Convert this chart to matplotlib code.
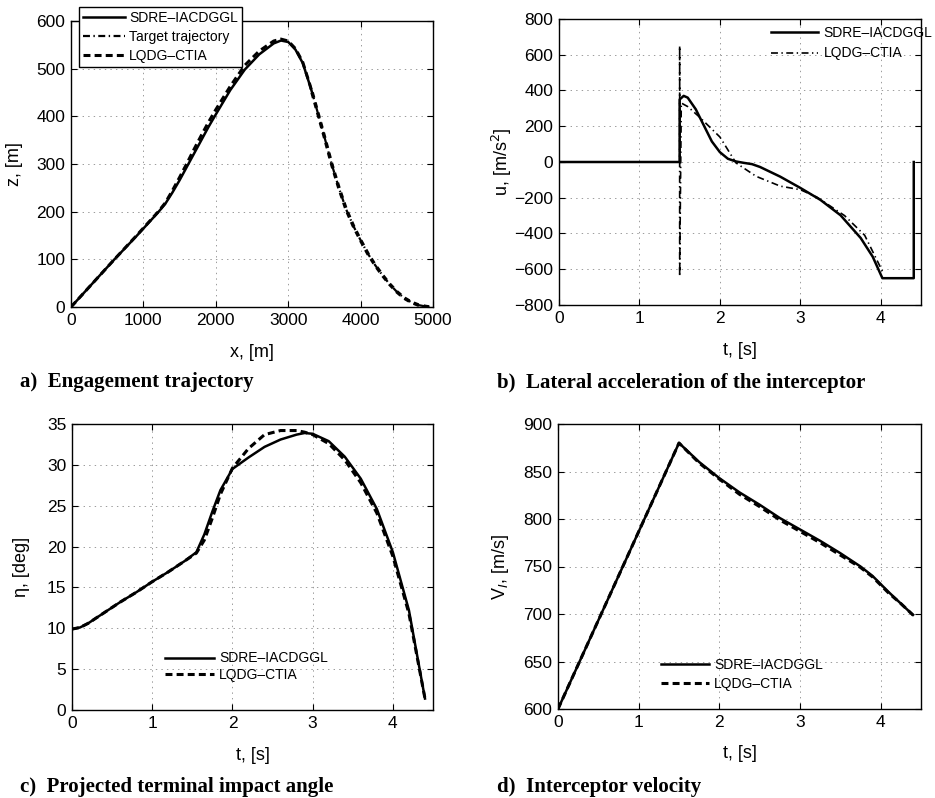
import numpy as np
import matplotlib
matplotlib.use("Agg")
import matplotlib.pyplot as plt

plt.rcParams['font.family'] = ['Liberation Sans', 'DejaVu Sans']
plt.rcParams['lines.scale_dashes'] = False

# a) engagement trajectory
sdre_x = [0, 300, 600, 900, 1200, 1300, 1400, 1500, 1600, 1700, 1800, 1900, 2000, 2200, 2400, 2600, 2800, 2900, 3000, 3100, 3200, 3300, 3330]
sdre_z = [0, 50, 100, 148, 198, 216, 240, 266, 294, 322, 350, 378, 404, 455, 498, 530, 553, 559, 556, 540, 512, 465, 450]
lqdg_x = [0, 300, 600, 900, 1200, 1300, 1400, 1500, 1600, 1700, 1800, 1900, 2000, 2200, 2400, 2600, 2800, 2900, 3000, 3100, 3200, 3300, 3330]
lqdg_z = [0, 50, 100, 149, 199, 218, 244, 272, 301, 331, 360, 388, 414, 463, 507, 537, 558, 562, 558, 542, 514, 466, 450]
tgt_x = [3330, 3400, 3500, 3600, 3700, 3800, 3900, 4000, 4100, 4200, 4300, 4400, 4500, 4600, 4700, 4800, 4900, 4950]
tgt_z = [450, 412, 357, 300, 250, 205, 170, 140, 112, 88, 67, 48, 32, 19, 10, 4, 1, 0]

# b) lateral acceleration
sdre_tb = [0, 1.5, 1.5, 1.55, 1.6, 1.7, 1.8, 1.9, 2.0, 2.1, 2.2, 2.3, 2.4, 2.5, 2.75, 3.0, 3.25, 3.5, 3.75, 3.9, 4.02, 4.41, 4.41]
sdre_u = [0, 0, 350, 370, 360, 295, 205, 115, 55, 18, 3, -5, -12, -28, -82, -145, -212, -298, -425, -530, -650, -650, 0]
lqdg_tb = [0, 1.5, 1.5, 1.5, 1.52, 1.6, 1.75, 2.0, 2.2, 2.45, 2.75, 3.0, 3.2, 3.55, 3.8, 4.03]
lqdg_u = [0, 0, 650, -640, 330, 310, 250, 140, -5, -80, -135, -155, -195, -300, -410, -620]

# c) projected terminal impact angle
t_c = [0, 0.1, 0.2, 0.4, 0.6, 0.8, 1.0, 1.2, 1.4, 1.55, 1.65, 1.75, 1.85, 2.0, 2.2, 2.4, 2.6, 2.8, 2.9, 3.0, 3.2, 3.4, 3.6, 3.8, 4.0, 4.2, 4.4]
sdre_eta = [9.9, 10.1, 10.6, 11.9, 13.2, 14.4, 15.7, 16.9, 18.2, 19.3, 21.5, 24.3, 26.9, 29.5, 30.9, 32.2, 33.1, 33.7, 33.9, 33.8, 32.9, 31.0, 28.3, 24.6, 19.3, 12.2, 1.4]
lqdg_eta = [9.9, 10.1, 10.6, 11.9, 13.2, 14.4, 15.7, 16.9, 18.2, 19.2, 20.8, 23.5, 26.4, 29.6, 32.0, 33.7, 34.2, 34.2, 34.0, 33.7, 32.6, 30.6, 27.8, 24.1, 18.8, 11.8, 1.4]

# d) interceptor velocity
t_d = [0, 1.5, 1.75, 2.0, 2.25, 2.5, 2.75, 3.0, 3.25, 3.5, 3.75, 3.9, 4.1, 4.25, 4.4]
sdre_v = [600, 880, 860, 843, 828, 815, 801, 789, 777, 764, 750, 740, 723, 711, 699]
lqdg_v = [600, 880, 859, 842, 826, 813, 799, 787, 775, 762, 749, 739, 722, 711, 699]

lab = ['SDRE\u2013IACDGGL', 'LQDG\u2013CTIA']
solid = dict(color='black', lw=1.8)
dashed = dict(color='black', lw=2.2, dashes=(5, 3))
dashdot = dict(color='black', lw=1.2, dashes=(5, 2.5, 1, 2.5))

W, H = 935, 798
fig = plt.figure(figsize=(W / 100, H / 100), dpi=100)
TICK = 12.5
LAB = 13
LEG = 10


def make_ax(l, t, r, b):
    ax = fig.add_axes([l / W, 1 - b / H, (r - l) / W, (b - t) / H])
    ax.tick_params(direction='in', top=True, right=True, length=4, labelsize=TICK, pad=4)
    ax.grid(True, color='#9a9a9a', lw=0.7, dashes=(1, 3))
    for s in ax.spines.values():
        s.set_linewidth(1.0)
    return ax


# panel a
ax = make_ax(71, 21, 433, 307)
ax.plot(sdre_x, sdre_z, label=lab[0], **solid)
ax.plot(tgt_x, tgt_z, label='Target trajectory', color='black', lw=1.6, dashes=(5, 2.5, 1, 2.5))
ax.plot(lqdg_x, lqdg_z, label=lab[1], **dashed)
ax.plot(tgt_x, tgt_z, color='black', lw=2.6, dashes=(4, 3.5))
ax.set_xlim(0, 5000)
ax.set_ylim(0, 600)
ax.set_xticks(np.arange(0, 5001, 1000))
ax.set_yticks(np.arange(0, 601, 100))
ax.set_xlabel('x, [m]', fontsize=LAB, labelpad=12)
ax.set_ylabel('z, [m]', fontsize=LAB, labelpad=10)
leg = ax.legend(loc='upper left', bbox_to_anchor=(0.022, 1.049), borderaxespad=0,
                fontsize=LEG, frameon=True, fancybox=False, framealpha=1,
                edgecolor='black', handlelength=3.0, handletextpad=0.3,
                labelspacing=0.35, borderpad=0.3)
leg.get_frame().set_linewidth(1.0)

# panel b
ax = make_ax(559, 19, 921, 305)
ax.plot(sdre_tb, sdre_u, label=lab[0], **solid)
ax.plot(lqdg_tb, lqdg_u, label=lab[1], **dashdot)
ax.set_xlim(0, 4.5)
ax.set_ylim(-800, 800)
ax.set_xticks(range(5))
ax.set_yticks(np.arange(-800, 801, 200))
ax.set_xlabel('t, [s]', fontsize=LAB, labelpad=12)
ax.set_ylabel('u, [m/s$^2$]', fontsize=LAB, labelpad=0)
ax.legend(loc='upper left', bbox_to_anchor=(0.585, 0.975), borderaxespad=0,
          fontsize=LEG, frameon=False, handlelength=3.4, handletextpad=0.4,
          labelspacing=0.45, borderpad=0)

# panel c
ax = make_ax(72, 424, 433, 710)
ax.plot(t_c, sdre_eta, label=lab[0], **solid)
ax.plot(t_c, lqdg_eta, label=lab[1], **dashed)
ax.set_xlim(0, 4.5)
ax.set_ylim(0, 35)
ax.set_xticks(range(5))
ax.set_yticks(np.arange(0, 36, 5))
ax.set_xlabel('t, [s]', fontsize=LAB, labelpad=12)
ax.set_ylabel('\u03b7, [deg]', fontsize=LAB, labelpad=12)
ax.legend(loc='upper left', bbox_to_anchor=(0.258, 0.205), borderaxespad=0,
          fontsize=LEG, frameon=False, handlelength=3.5, handletextpad=0.4,
          labelspacing=0.2, borderpad=0)

# panel d
ax = make_ax(558, 424, 921, 709)
ax.plot(t_d, sdre_v, label=lab[0], **solid)
ax.plot(t_d, lqdg_v, label=lab[1], **dashed)
ax.set_xlim(0, 4.5)
ax.set_ylim(600, 900)
ax.set_xticks(range(5))
ax.set_yticks(np.arange(600, 901, 50))
ax.set_xlabel('t, [s]', fontsize=LAB, labelpad=11)
ax.set_ylabel('V$_I$, [m/s]', fontsize=LAB, labelpad=9)
ax.legend(loc='upper left', bbox_to_anchor=(0.285, 0.18), borderaxespad=0,
          fontsize=LEG, frameon=False, handlelength=3.4, handletextpad=0.4,
          labelspacing=0.35, borderpad=0)

# captions
cap = dict(fontsize=15, fontweight='bold', family='Liberation Serif', va='center', ha='left')
fig.text(20 / W, 1 - 382 / H, 'a)  Engagement trajectory', **cap)
fig.text(497 / W, 1 - 383 / H, 'b)  Lateral acceleration of the interceptor', **cap)
fig.text(20 / W, 1 - 787 / H, 'c)  Projected terminal impact angle', **cap)
fig.text(497 / W, 1 - 787 / H, 'd)  Interceptor velocity', **cap)

fig.savefig('out.png', dpi=100)
